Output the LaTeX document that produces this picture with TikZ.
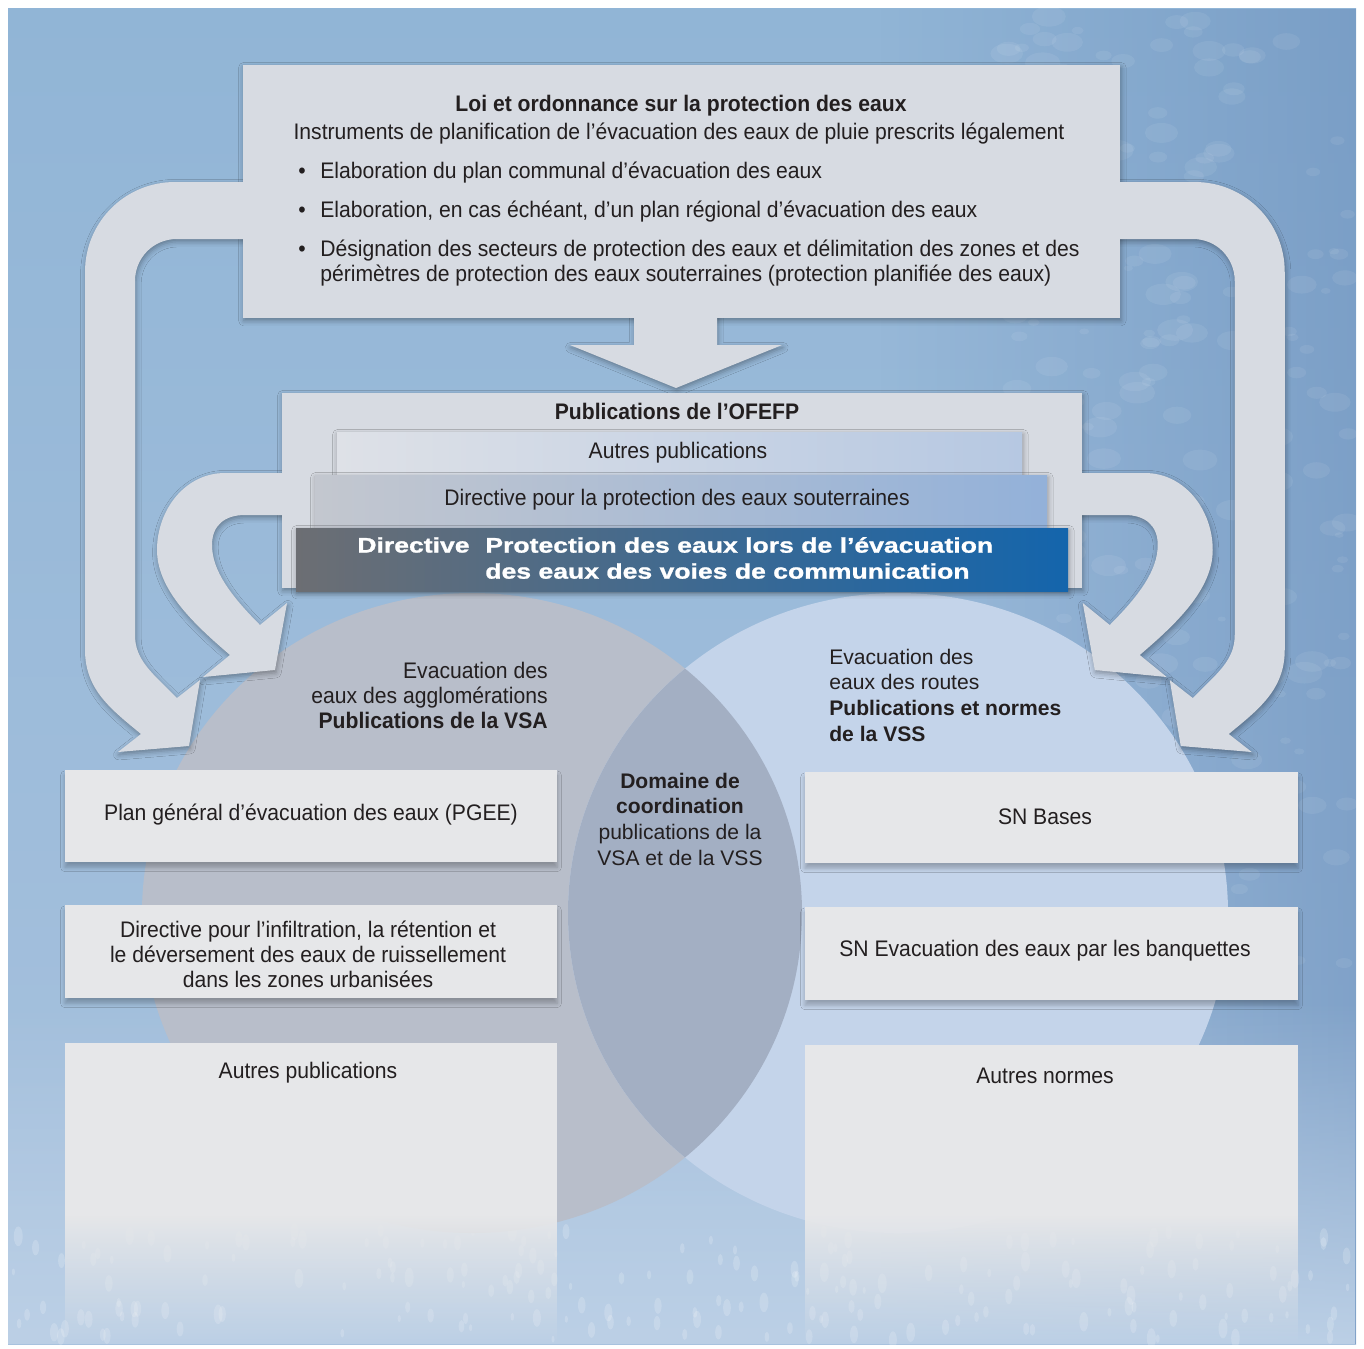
\documentclass[tikz,border=0pt]{standalone}
\usepackage{fontspec}
\setmainfont{Liberation Sans}[FakeStretch=0.94]
\newfontfamily\widefont{Liberation Sans}
\newfontfamily\heavyfont{Liberation Sans}[FakeStretch=1.26, FakeBold=1.2]
\usetikzlibrary{fadings, shadows.blur}
\newcommand{\bodysize}{\fontsize{12.8}{14.2}\selectfont}
\newcommand{\widesize}{\fontsize{12}{14.6}\selectfont}
\newcommand{\heavysize}{\fontsize{12}{14.8}\selectfont}

\definecolor{bgtop}{HTML}{91B5D6}
\definecolor{bgbot}{HTML}{A8C2DE}
\definecolor{bgrock}{HTML}{6A8FBC}
\definecolor{bglight}{HTML}{BCD0E6}
\definecolor{panelcol}{HTML}{D7DBE2}
\definecolor{boxcol}{HTML}{E6E7E9}
\definecolor{leftcol}{HTML}{B8BECA}
\definecolor{rightcol}{HTML}{C4D4EA}
\definecolor{lenscol}{HTML}{A3AFC3}
\definecolor{layonel}{HTML}{DEE1E7}
\definecolor{layoner}{HTML}{B6C8E2}
\definecolor{laytwol}{HTML}{C3C7CF}
\definecolor{laytwor}{HTML}{93B1D9}
\definecolor{laythreel}{HTML}{6C6E73}
\definecolor{laythreer}{HTML}{1465AC}
\definecolor{inkcol}{HTML}{231F20}

\tikzfading[name=fadebottom, top color=transparent!0, bottom color=transparent!100]
\tikzfading[name=fadetop, top color=transparent!100, bottom color=transparent!0]
\tikzfading[name=faderight, left color=transparent!100, right color=transparent!0]

% outlines of the grey bands (left side, mirrored for the right)
\newcommand{\outerarrow}{(260,-182) -- (175,-182) .. controls (125,-182) and (85,-222) .. (85,-272)
  -- (85,-650) .. controls (85,-690) and (112,-710) .. (141,-734) -- (118,-752) -- (189,-746)
  -- (200,-680) -- (177,-698) .. controls (152,-673) and (135,-660) .. (135,-635)
  -- (135,-281) .. controls (135,-258) and (153,-239) .. (177,-239) -- (260,-239) -- cycle}
\newcommand{\innerarrow}{(300,-473) -- (225,-473) .. controls (185,-473) and (157,-510) .. (157,-550)
  .. controls (157,-590) and (195,-625) .. (230,-655) -- (203,-677) -- (275,-670) -- (287,-603)
  -- (260,-625) .. controls (230,-595) and (212,-570) .. (212,-545)
  .. controls (212,-525) and (225,-515) .. (245,-515) -- (300,-515) -- cycle}
\newcommand{\lawarrow}{(634,-310) -- (634,-345) -- (570,-345) -- (676,-388) -- (782,-345) -- (717,-345) -- (717,-310) -- cycle}

\begin{document}
\begin{tikzpicture}[x=0.02cm, y=0.02cm,
  bodytxt/.style={font=\bodysize, text=inkcol, inner sep=0pt},
  headtxt/.style={font=\bodysize\bfseries, text=inkcol, inner sep=0pt},
  widetxt/.style={font=\widefont\widesize, text=inkcol, inner sep=0pt},
  heavytxt/.style={font=\heavyfont\heavysize\bfseries, text=white, inner sep=0pt},
  panel/.style={fill=panelcol},
  lowbox/.style={fill=boxcol},
  softshadow/.style={blur shadow={shadow xshift=0.5pt, shadow yshift=-1.5pt, shadow blur radius=3pt, shadow opacity=35}},
  boxshadow/.style={blur shadow={shadow xshift=0pt, shadow yshift=-3pt, shadow blur radius=2.5pt, shadow opacity=25}}
]
  % background
  \fill[white] (0,0) rectangle (1364,-1344);
  \shade[top color=bgtop, bottom color=bgbot] (8,-8) rectangle (1356,-1344);
  \fill[bgrock, opacity=0.6, path fading=faderight] (880,-8) rectangle (1356,-1344);
  \fill[bglight, path fading=fadetop] (8,-1000) rectangle (1356,-1344);
  % water texture
  \pgfmathsetseed{42}
  \foreach \i in {1,...,220}{
    \pgfmathsetmacro{\spx}{1000+350*rnd}
    \pgfmathsetmacro{\spy}{-15-960*rnd}
    \pgfmathsetmacro{\spr}{4+14*rnd}
    \fill[white, opacity=0.07] (\spx,\spy) ellipse [x radius=\spr, y radius=0.6*\spr];
  }
  \foreach \i in {1,...,200}{
    \pgfmathsetmacro{\spx}{10+1340*rnd}
    \pgfmathsetmacro{\spy}{-1230-110*rnd}
    \pgfmathsetmacro{\spr}{1.5+3*rnd}
    \fill[white, opacity=0.18] (\spx,\spy) ellipse [x radius=\spr, y radius=2.2*\spr];
  }

  % the two fields
  \fill[leftcol] (472,-913) ellipse [x radius=330, y radius=320];
  \fill[rightcol] (898,-913) ellipse [x radius=330, y radius=320];
  \begin{scope}
    \clip (472,-913) ellipse [x radius=330, y radius=320];
    \fill[lenscol] (898,-913) ellipse [x radius=330, y radius=320];
  \end{scope}

  % shadows of the grey bands and frames
  \path[softshadow] \outerarrow;
  \path[softshadow] \innerarrow;
  \begin{scope}[xshift=27.4cm, xscale=-1]
    \path[softshadow] \outerarrow;
    \path[softshadow] \innerarrow;
  \end{scope}
  \path[softshadow] \lawarrow;
  \path[softshadow] (243,-65) rectangle (1120,-318);
  \path[softshadow] (282,-393) rectangle (1082,-588);

  % grey bands and frames
  \fill[panel] \outerarrow;
  \fill[panel] \innerarrow;
  \begin{scope}[xshift=27.4cm, xscale=-1]
    \fill[panel] \outerarrow;
    \fill[panel] \innerarrow;
  \end{scope}
  \fill[panel] \lawarrow;
  \fill[panel] (243,-65) rectangle (1120,-318);
  \fill[panel] (282,-393) rectangle (1082,-588);

  % law box
  \node[headtxt] (loi) at (681,-106) {Loi et ordonnance sur la protection des eaux};
  \node[bodytxt] (instr) at (679,-134) {Instruments de planification de l’évacuation des eaux de pluie prescrits légalement};
  \node[bodytxt] (dot1) at (302,-173) {\textbullet};
  \node[bodytxt] (dot2) at (302,-212) {\textbullet};
  \node[bodytxt] (dot3) at (302,-251) {\textbullet};
  \node[bodytxt, anchor=west] (item1) at (320,-173) {Elaboration du plan communal d’évacuation des eaux};
  \node[bodytxt, anchor=west] (item2) at (320,-212) {Elaboration, en cas échéant, d’un plan régional d’évacuation des eaux};
  \node[bodytxt, anchor=west, align=left] (item3) at (320,-263) {Désignation des secteurs de protection des eaux et délimitation des zones et des\\périmètres de protection des eaux souterraines (protection planifiée des eaux)};

  % OFEFP stack
  \node[headtxt] (ofefp) at (677,-411) {Publications de l’OFEFP};
  \shade[softshadow, left color=layonel, right color=layoner] (337,-432) rectangle (1022,-475);
  \shade[softshadow, left color=laytwol, right color=laytwor] (315,-475) rectangle (1047,-528);
  \shade[softshadow, left color=laythreel, right color=laythreer] (296,-528) rectangle (1068,-591);
  \node[bodytxt] (autres) at (678,-453) {Autres publications};
  \node[bodytxt] (souter) at (677,-500) {Directive pour la protection des eaux souterraines};
  \node[heavytxt, anchor=west] (dirlabel) at (357,-545) {Directive};
  \node[heavytxt, anchor=west, align=left] (dirtitle) at (485,-558) {Protection des eaux lors de l’évacuation\\des eaux des voies de communication};

  % field labels
  \node[bodytxt, anchor=east, align=right] (vsa) at (548,-695) {Evacuation des\\eaux des agglomérations\\\textbf{Publications de la VSA}};
  \node[widetxt, anchor=west, align=left] (vss) at (829,-695) {Evacuation des\\eaux des routes\\\textbf{Publications et normes}\\\textbf{de la VSS}};
  \node[widetxt, align=center] (coord) at (680,-819) {\textbf{Domaine de}\\\textbf{coordination}\\publications de la\\VSA et de la VSS};

  % lower boxes
  \fill[lowbox, boxshadow] (65,-770) rectangle (557,-862);
  \fill[lowbox, boxshadow] (65,-905) rectangle (557,-998);
  \fill[lowbox] (65,-1043) rectangle (557,-1215);
  \fill[lowbox, path fading=fadebottom] (65,-1215) rectangle (557,-1344);
  \fill[lowbox, boxshadow] (805,-772) rectangle (1298,-863);
  \fill[lowbox, boxshadow] (805,-907) rectangle (1298,-1000);
  \fill[lowbox] (805,-1045) rectangle (1298,-1215);
  \fill[lowbox, path fading=fadebottom] (805,-1215) rectangle (1298,-1344);

  \node[bodytxt] (pgee) at (311,-815) {Plan général d’évacuation des eaux (PGEE)};
  \node[bodytxt, align=center] (infil) at (308,-954) {Directive pour l’infiltration, la rétention et\\le déversement des eaux de ruissellement\\dans les zones urbanisées};
  \node[bodytxt] (autpub) at (308,-1073) {Autres publications};
  \node[bodytxt] (snbase) at (1045,-817) {SN Bases};
  \node[bodytxt] (snbanq) at (1045,-951) {SN Evacuation des eaux par les banquettes};
  \node[bodytxt] (autnorm) at (1045,-1076) {Autres normes};
\end{tikzpicture}
\end{document}
